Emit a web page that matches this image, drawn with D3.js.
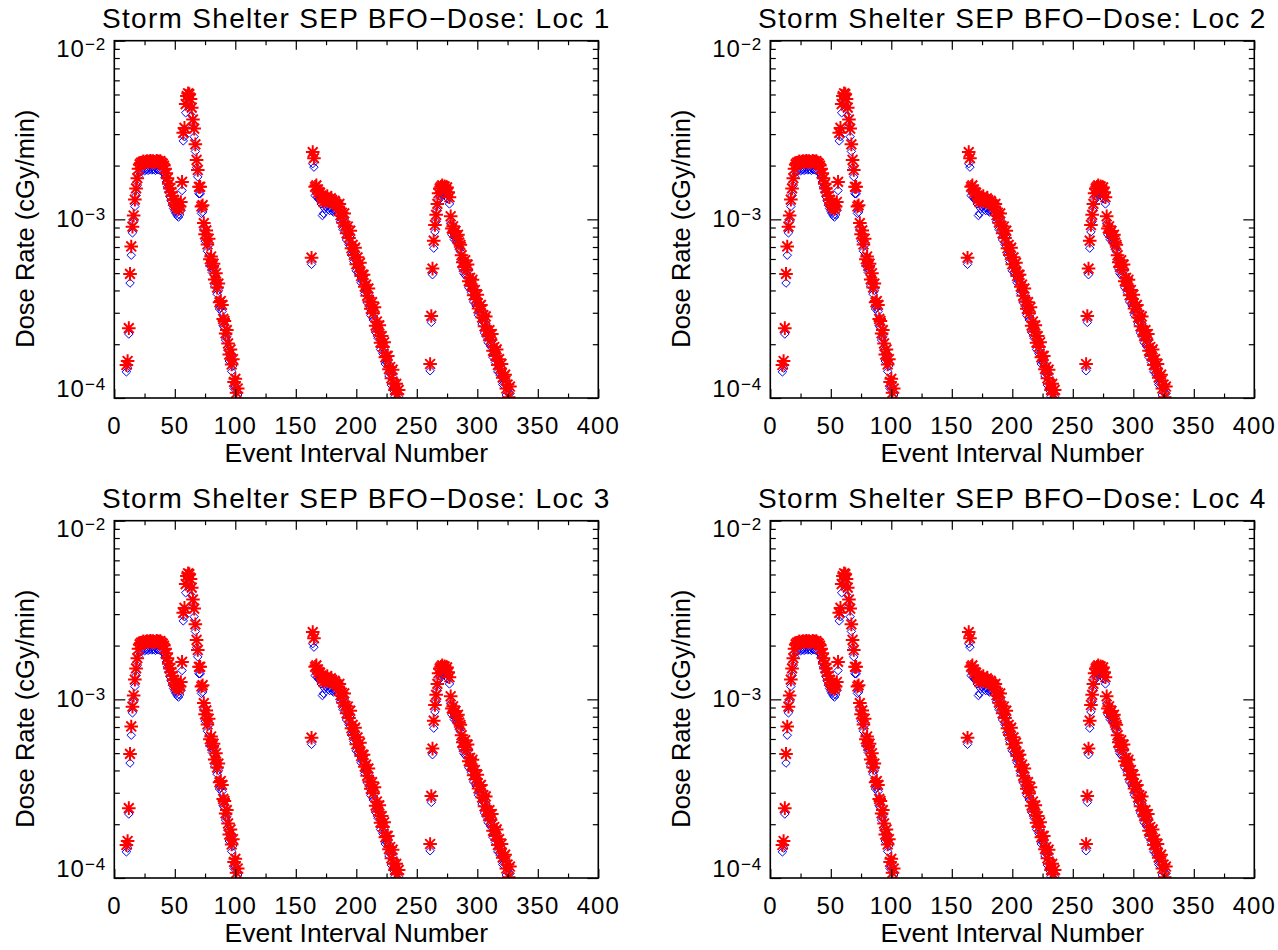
<!DOCTYPE html>
<html>
<head>
<meta charset="utf-8">
<script src="https://cdn.jsdelivr.net/npm/d3@7"></script>
<style>
  html, body { margin: 0; padding: 0; background: #ffffff; }
  svg { display: block; }
  text { font-family: "Liberation Sans", Arial, sans-serif; fill: #000; }
</style>
</head>
<body>
<svg id="chart" width="1278" height="950"></svg>
<script>
// ---------------- DATA ----------------
const panelTitles = [
  "Storm Shelter SEP BFO\u2212Dose: Loc 1",
  "Storm Shelter SEP BFO\u2212Dose: Loc 2",
  "Storm Shelter SEP BFO\u2212Dose: Loc 3",
  "Storm Shelter SEP BFO\u2212Dose: Loc 4"
];
const xAxisTitle = "Event Interval Number";
const yAxisTitle = "Dose Rate (cGy/min)";
const xMajorTicks = [0, 50, 100, 150, 200, 250, 300, 350, 400];
const xMinorTicks = [25, 75, 125, 175, 225, 275, 325, 375];
const yMajorTicks = [1e-4, 1e-3, 1e-2];
const yTickExponents = ["\u22124", "\u22123", "\u22122"];
const yMinorTicks = [2e-4, 3e-4, 4e-4, 5e-4, 6e-4, 7e-4, 8e-4, 9e-4,
                     2e-3, 3e-3, 4e-3, 5e-3, 6e-3, 7e-3, 8e-3, 9e-3];

// Event 1 (diamond = blue series, asterisk = red series), dose rate in cGy/min
const event1Interval = [10,11,12,13,14,15,16,17,18,19,20,21,22,23,24,25,26,27,28,29,
  30,31,32,33,34,35,36,37,38,39,40,41,42,43,44,45,46,47,48,49,
  50,51,52,53,54,55,56,57,58,59,60,61,62,63,64,65,66,67,68,69,
  70,71,72,73,74,75,76,77,78,79,80,81,82,83,84,85,86,87,88,89,
  90,91,92,93,94,95,96,97,98,99,100,101,102,103];
const event1Diamond = [1.40e-4,1.47e-4,2.28e-4,4.40e-4,6.30e-4,8.40e-4,9.70e-4,1.18e-3,1.36e-3,1.55e-3,
  1.74e-3,1.83e-3,1.86e-3,1.88e-3,1.90e-3,1.87e-3,1.89e-3,1.91e-3,1.88e-3,1.90e-3,
  1.92e-3,1.89e-3,1.91e-3,1.90e-3,1.88e-3,1.92e-3,1.90e-3,1.89e-3,1.91e-3,1.88e-3,
  1.85e-3,1.80e-3,1.72e-3,1.62e-3,1.52e-3,1.42e-3,1.34e-3,1.27e-3,1.20e-3,1.15e-3,
  1.11e-3,1.08e-3,1.05e-3,1.03e-3,1.06e-3,1.12e-3,1.45e-3,2.75e-3,2.90e-3,3.95e-3,
  4.40e-3,4.55e-3,4.50e-3,4.25e-3,3.80e-3,3.30e-3,2.90e-3,2.40e-3,1.95e-3,1.73e-3,
  1.39e-3,1.39e-3,1.08e-3,1.10e-3,8.74e-4,7.57e-4,7.95e-4,6.63e-4,7.15e-4,5.49e-4,
  5.68e-4,5.04e-4,5.18e-4,4.23e-4,4.58e-4,3.81e-4,4.01e-4,3.15e-4,3.2e-4,3.05e-4,
  2.54e-4,2.48e-4,2.11e-4,2.2e-4,1.85e-4,1.61e-4,1.72e-4,1.41e-4,1.51e-4,1.13e-4,
  1.17e-4,9.8e-5,1.04e-4,8.0e-5];
const event1Asterisk = [1.53e-4,1.61e-4,2.46e-4,4.95e-4,7.05e-4,9.1e-4,1.05e-3,1.29e-3,1.49e-3,1.70e-3,
  1.92e-3,2.03e-3,2.07e-3,2.08e-3,2.11e-3,2.07e-3,2.10e-3,2.12e-3,2.09e-3,2.11e-3,
  2.13e-3,2.09e-3,2.12e-3,2.10e-3,2.08e-3,2.13e-3,2.11e-3,2.10e-3,2.12e-3,2.08e-3,
  2.05e-3,2.00e-3,1.92e-3,1.81e-3,1.70e-3,1.58e-3,1.49e-3,1.42e-3,1.35e-3,1.29e-3,
  1.24e-3,1.20e-3,1.17e-3,1.14e-3,1.18e-3,1.25e-3,1.62e-3,3.05e-3,3.25e-3,4.42e-3,
  4.90e-3,5.08e-3,5.02e-3,4.72e-3,4.22e-3,3.62e-3,3.22e-3,2.63e-3,2.15e-3,1.89e-3,
  1.52e-3,1.52e-3,1.18e-3,1.20e-3,9.53e-4,8.25e-4,8.67e-4,7.23e-4,7.79e-4,5.98e-4,
  6.19e-4,5.49e-4,5.65e-4,4.61e-4,4.99e-4,4.15e-4,4.37e-4,3.43e-4,3.49e-4,3.32e-4,
  2.77e-4,2.7e-4,2.3e-4,2.4e-4,2.02e-4,1.75e-4,1.87e-4,1.54e-4,1.65e-4,1.23e-4,
  1.28e-4,1.07e-4,1.13e-4,8.7e-5];

// Event 2
const event2Interval = [163,164,165,166,167,168,169,
  170,171,172,173,174,175,176,177,178,179,180,181,182,183,184,185,186,187,188,189,
  190,191,192,193,194,195,196,197,198,199,200,201,202,203,204,205,206,207,208,209,
  210,211,212,213,214,215,216,217,218,219,220,221,222,223,224,225,226,227,228,229,
  230,231,232,233,234,235,236];
const event2Diamond = [5.6e-4,2.05e-3,1.96e-3,1.36e-3,1.41e-3,1.33e-3,1.29e-3,
  1.31e-3,1.22e-3,1.05e-3,1.08e-3,1.15e-3,1.18e-3,1.20e-3,1.14e-3,1.12e-3,1.16e-3,
  1.12e-3,1.10e-3,1.13e-3,1.10e-3,1.09e-3,1.07e-3,1.12e-3,9.68e-4,1.0e-3,8.79e-4,
  9.92e-4,8.45e-4,7.67e-4,8.37e-4,7.22e-4,7.92e-4,6.32e-4,6.6e-4,5.8e-4,6.37e-4,
  5.15e-4,5.62e-4,4.92e-4,5.24e-4,4.42e-4,4.5e-4,4.49e-4,3.85e-4,3.95e-4,3.42e-4,
  3.76e-4,3.17e-4,2.9e-4,3.16e-4,2.73e-4,2.95e-4,2.33e-4,2.46e-4,2.16e-4,2.34e-4,
  1.87e-4,2.04e-4,1.77e-4,1.88e-4,1.55e-4,1.58e-4,1.58e-4,1.33e-4,1.37e-4,1.18e-4,
  1.32e-4,1.1e-4,1.02e-4,1.1e-4,9.6e-5,1.02e-4,8.2e-5];
const event2Asterisk = [6.1e-4,2.38e-3,2.20e-3,1.52e-3,1.55e-3,1.46e-3,1.42e-3,
  1.41e-3,1.36e-3,1.30e-3,1.25e-3,1.28e-3,1.32e-3,1.35e-3,1.30e-3,1.26e-3,1.31e-3,
  1.28e-3,1.24e-3,1.27e-3,1.22e-3,1.21e-3,1.18e-3,1.22e-3,1.055e-3,1.09e-3,9.58e-4,
  1.08e-3,9.21e-4,8.36e-4,9.12e-4,7.87e-4,8.63e-4,6.89e-4,7.19e-4,6.32e-4,6.94e-4,
  5.61e-4,6.13e-4,5.36e-4,5.71e-4,4.82e-4,4.9e-4,4.89e-4,4.2e-4,4.31e-4,3.73e-4,
  4.1e-4,3.46e-4,3.16e-4,3.44e-4,2.98e-4,3.22e-4,2.54e-4,2.68e-4,2.35e-4,2.55e-4,
  2.04e-4,2.22e-4,1.93e-4,2.05e-4,1.69e-4,1.72e-4,1.72e-4,1.45e-4,1.49e-4,1.29e-4,
  1.44e-4,1.2e-4,1.11e-4,1.2e-4,1.05e-4,1.11e-4,8.9e-5];

// Event 3
const event3Interval = [261,262,263,264,265,266,267,268,269,
  270,271,272,273,274,275,276,277,278,279,280,281,282,283,284,285,286,287,288,289,
  290,291,292,293,294,295,296,297,298,299,300,301,302,303,304,305,306,307,308,309,
  310,311,312,313,314,315,316,317,318,319,320,321,322,323,324,325,326,327,328,329];
const event3Diamond = [1.42e-4,2.65e-4,4.9e-4,6.9e-4,8.5e-4,9.7e-4,1.12e-3,1.28e-3,1.36e-3,
  1.40e-3,1.42e-3,1.37e-3,1.40e-3,1.34e-3,1.38e-3,1.30e-3,1.22e-3,9.5e-4,8.2e-4,
  8.4e-4,7.7e-4,7.9e-4,7.4e-4,7.5e-4,6.8e-4,6.6e-4,5.8e-4,5.28e-4,4.96e-4,
  5.41e-4,4.78e-4,5.12e-4,4.14e-4,4.31e-4,3.9e-4,4.21e-4,3.45e-4,3.69e-4,3.28e-4,
  3.48e-4,2.91e-4,3.0e-4,3.05e-4,2.59e-4,2.67e-4,2.31e-4,2.62e-4,2.19e-4,2.04e-4,
  2.2e-4,1.94e-4,2.09e-4,1.69e-4,1.77e-4,1.58e-4,1.72e-4,1.4e-4,1.51e-4,1.34e-4,
  1.42e-4,1.19e-4,1.21e-4,1.24e-4,1.04e-4,1.09e-4,9.3e-5,1.06e-4,8.8e-5,8.2e-5];
const event3Asterisk = [1.55e-4,2.88e-4,5.3e-4,7.6e-4,9.3e-4,1.06e-3,1.22e-3,1.40e-3,1.49e-3,
  1.52e-3,1.55e-3,1.50e-3,1.53e-3,1.47e-3,1.51e-3,1.42e-3,1.33e-3,1.04e-3,8.9e-4,
  9.15e-4,8.4e-4,8.6e-4,8.05e-4,8.2e-4,7.4e-4,7.2e-4,6.3e-4,5.76e-4,5.41e-4,
  5.9e-4,5.21e-4,5.58e-4,4.51e-4,4.7e-4,4.25e-4,4.59e-4,3.76e-4,4.02e-4,3.58e-4,
  3.79e-4,3.17e-4,3.27e-4,3.32e-4,2.82e-4,2.91e-4,2.52e-4,2.86e-4,2.39e-4,2.22e-4,
  2.4e-4,2.11e-4,2.28e-4,1.84e-4,1.93e-4,1.72e-4,1.87e-4,1.53e-4,1.65e-4,1.46e-4,
  1.55e-4,1.3e-4,1.32e-4,1.35e-4,1.13e-4,1.19e-4,1.01e-4,1.16e-4,9.6e-5,8.9e-5];

// ---------------- LAYOUT ----------------
const panelOffsets = [[0, 0], [656, 0], [0, 480], [656, 480]];
const ML = 114.3, MT = 40.7, W = 484, H = 357.3;

const intervals = event1Interval.concat(event2Interval, event3Interval);
const diamondVals = event1Diamond.concat(event2Diamond, event3Diamond);
const asteriskVals = event1Asterisk.concat(event2Asterisk, event3Asterisk);
const points = intervals.map((iv, k) => ({ x: iv, d: diamondVals[k], a: asteriskVals[k] }));

const x = d3.scaleLinear().domain([0, 400]).range([0, W]);
const y = d3.scaleLog().domain([1e-4, 1e-2]).range([H, 0]);

const asteriskType = {
  draw(ctx, size) {
    const r = Math.sqrt(size) / 2, d = r * 0.72;
    ctx.moveTo(-r, 0); ctx.lineTo(r, 0);
    ctx.moveTo(0, -r); ctx.lineTo(0, r);
    ctx.moveTo(-d, -d); ctx.lineTo(d, d);
    ctx.moveTo(-d, d); ctx.lineTo(d, -d);
  }
};
const diamondType = {
  draw(ctx, size) {
    const r = Math.sqrt(size) / 2;
    ctx.moveTo(0, -r); ctx.lineTo(r, 0); ctx.lineTo(0, r); ctx.lineTo(-r, 0); ctx.closePath();
  }
};

const svg = d3.select("#chart");

panelOffsets.forEach((off, i) => {
  const g = svg.append("g").attr("transform", `translate(${off[0]},${off[1]})`);
  const plot = g.append("g").attr("transform", `translate(${ML},${MT})`);

  plot.append("clipPath").attr("id", "clip" + i)
    .append("rect").attr("width", W).attr("height", H);

  const marks = plot.append("g").attr("clip-path", `url(#clip${i})`);
  const inRange = (v) => v >= 1e-4 && v <= 1e-2;

  marks.append("g").selectAll("path")
    .data(points.filter(p => inRange(p.d)))
    .join("path")
    .attr("transform", p => `translate(${x(p.x)},${y(p.d)})`)
    .attr("d", d3.symbol(diamondType, 72))
    .attr("fill", "none").attr("stroke", "#0000ff").attr("stroke-width", 1);

  marks.append("g").selectAll("path")
    .data(points.filter(p => inRange(p.a)))
    .join("path")
    .attr("transform", p => `translate(${x(p.x)},${y(p.a)})`)
    .attr("d", d3.symbol(asteriskType, 185))
    .attr("fill", "none").attr("stroke", "#ff0000").attr("stroke-width", 2);

  // axes (ticks only, pointing inward)
  const tickStyle = sel => {
    sel.select(".domain").remove();
    sel.selectAll("line").attr("stroke", "#000").attr("stroke-width", 1.2);
    sel.selectAll("text").remove();
  };
  plot.append("g").attr("transform", `translate(0,${H})`)
    .call(d3.axisBottom(x).tickValues(xMajorTicks).tickSize(-9)).call(tickStyle);
  plot.append("g").attr("transform", `translate(0,${H})`)
    .call(d3.axisBottom(x).tickValues(xMinorTicks).tickSize(-4.5)).call(tickStyle);
  plot.append("g")
    .call(d3.axisTop(x).tickValues(xMajorTicks).tickSize(-9)).call(tickStyle);
  plot.append("g")
    .call(d3.axisTop(x).tickValues(xMinorTicks).tickSize(-4.5)).call(tickStyle);
  plot.append("g")
    .call(d3.axisLeft(y).tickValues(yMajorTicks).tickSize(-11)).call(tickStyle);
  plot.append("g")
    .call(d3.axisLeft(y).tickValues(yMinorTicks).tickSize(-5.5)).call(tickStyle);
  plot.append("g").attr("transform", `translate(${W},0)`)
    .call(d3.axisRight(y).tickValues(yMajorTicks).tickSize(-11)).call(tickStyle);
  plot.append("g").attr("transform", `translate(${W},0)`)
    .call(d3.axisRight(y).tickValues(yMinorTicks).tickSize(-5.5)).call(tickStyle);

  plot.append("rect").attr("width", W).attr("height", H)
    .attr("fill", "none").attr("stroke", "#000").attr("stroke-width", 1.6);

  // x tick labels
  plot.append("g").selectAll("text").data(xMajorTicks).join("text")
    .attr("x", v => x(v)).attr("y", H + 36)
    .attr("text-anchor", "middle")
    .style("font-size", "24px").style("letter-spacing", "1px")
    .text(v => v);

  // y tick labels: 10 with superscript exponent
  const yl = plot.append("g").selectAll("text").data(yMajorTicks).join("text")
    .attr("x", -8)
    .attr("y", v => Math.min(Math.max(y(v) + 8, 16.5), H - 1))
    .attr("text-anchor", "end")
    .style("font-size", "24px").style("letter-spacing", "1px");
  yl.append("tspan").text("10");
  yl.append("tspan").attr("dy", -7).style("font-size", "17px")
    .text((v, k) => yTickExponents[k]);

  // titles
  g.append("text")
    .attr("x", ML + W / 2).attr("y", MT - 12.5)
    .attr("text-anchor", "middle")
    .style("font-size", "28px").style("letter-spacing", "1.3px")
    .text(panelTitles[i]);

  g.append("text")
    .attr("x", ML + W / 2).attr("y", MT + H + 64)
    .attr("text-anchor", "middle")
    .style("font-size", "26.5px")
    .text(xAxisTitle);

  g.append("text")
    .attr("transform", `translate(34,${MT + 188}) rotate(-90)`)
    .attr("text-anchor", "middle")
    .style("font-size", "25.5px")
    .text(yAxisTitle);
});
</script>
</body>
</html>
